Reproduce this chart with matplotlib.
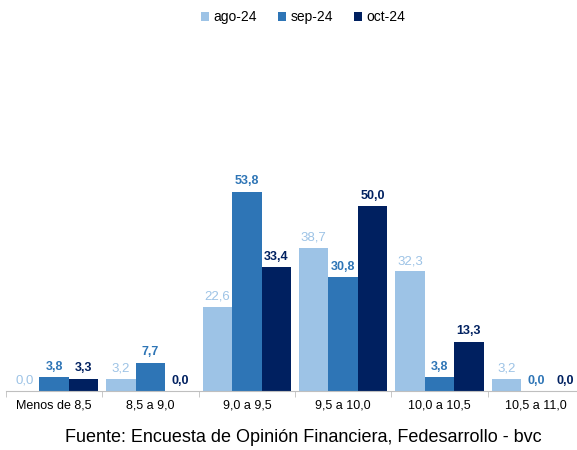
import matplotlib.pyplot as plt
import numpy as np

categories = ["Menos de 8,5", "8,5 a 9,0", "9,0 a 9,5", "9,5 a 10,0", "10,0 a 10,5", "10,5 a 11,0"]
series = ["ago-24", "sep-24", "oct-24"]
ago = [0.0, 3.2, 22.6, 38.7, 32.3, 3.2]
sep = [3.8, 7.7, 53.8, 30.8, 3.8, 0.0]
octv = [3.3, 0.0, 33.4, 50.0, 13.3, 0.0]
colors = ["#9DC3E6", "#2E75B6", "#002060"]

plt.rcParams['font.family'] = ['Liberation Sans', 'DejaVu Sans']

fig = plt.figure(figsize=(5.77, 4.5), dpi=100)
# axes runs a little past the right edge, as in the original
ax = fig.add_axes([6 / 577, 59 / 450, 578 / 577, 222 / 450])

x = np.arange(len(categories))
w = 0.305
for i, (vals, name) in enumerate(zip([ago, sep, octv], series)):
    pos = x + (i - 1) * w
    ax.bar(pos, vals, width=w, color=colors[i], label=name)
    for p, v in zip(pos, vals):
        ax.text(p, v + 1.2, "{:.1f}".format(v).replace(".", ","), ha="center", va="bottom",
                fontsize=9.5 if i == 0 else 9, color=colors[i],
                fontweight="normal" if i == 0 else "bold")

ax.set_xlim(-0.5, len(categories) - 0.5)
ax.set_ylim(0, 60)
ax.set_yticks([])
ax.set_xticks(x)
ax.set_xticklabels(categories, fontsize=9)
ax.tick_params(axis="x", length=0, pad=6)
ax.set_xticks(np.arange(-0.5, len(categories)), minor=True)
ax.tick_params(axis="x", which="minor", length=4, color="#BFBFBF")
for s in ["top", "right", "left"]:
    ax.spines[s].set_visible(False)
ax.spines["bottom"].set_color("#BFBFBF")

fig.legend(loc="upper center", bbox_to_anchor=(303 / 577, 1.005), ncol=3, frameon=False, fontsize=10,
           handlelength=0.6, handleheight=0.6, handletextpad=0.3, columnspacing=1.5)

fig.text(303 / 577, 1 - 438 / 450, "Fuente: Encuesta de Opinión Financiera, Fedesarrollo - bvc",
         ha="center", va="center", fontsize=13)

fig.savefig("out.png", dpi=100)
